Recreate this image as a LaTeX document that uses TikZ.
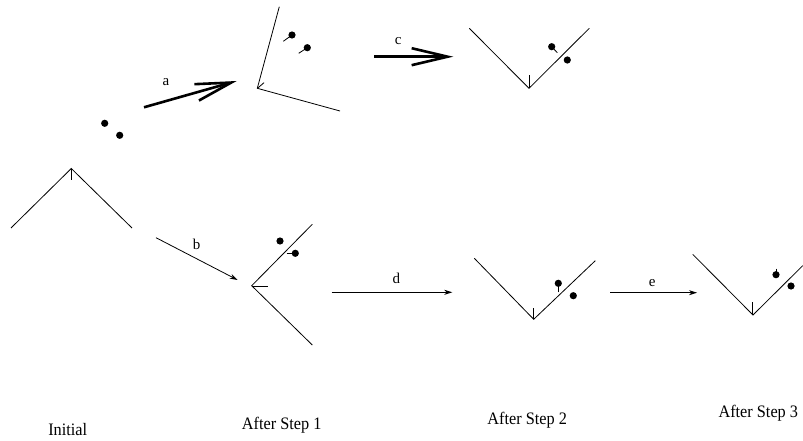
\documentclass[tikz,border=0pt]{standalone}
\usepackage{fontspec}
\setmainfont{Liberation Serif}
\usetikzlibrary{arrows.meta}
\begin{document}
\begin{tikzpicture}[x=1pt,y=-1pt,
  wall/.style={line width=0.8pt,line join=miter},
  tick/.style={line width=0.8pt},
  ball/.style={fill=black},
  thinarrow/.style={line width=0.8pt,-{Stealth[length=8pt,width=5pt,inset=2.5pt]}},
  thickarrow/.style={line width=2.6pt,-{Straight Barb[length=36pt,width=17pt]}},
  steplabel/.style={inner sep=0pt,font=\fontsize{15}{17}\selectfont},
  caption/.style={inner sep=0pt,anchor=base,font=\fontsize{17.5}{20}\selectfont\addfontfeatures{FakeStretch=0.93}}]
\useasboundingbox (0,0) rectangle (803,441);

% ---- initial configuration ----
\draw[wall] (11,228) -- (71.3,168.5) -- (132,228);
\draw[tick] (71.3,168.5) -- (71.3,180);
\fill[ball] (104.7,123.3) circle (3.6);
\fill[ball] (119.7,135.3) circle (3.6);

% ---- after step 1 (upper) ----
\draw[wall] (279.3,6.7) -- (257.3,88.3) -- (340,111);
\draw[tick] (257.8,88) -- (264,82.7);
\draw[tick] (283.3,41.3) -- (292,35);
\fill[ball] (292,35) circle (3.6);
\draw[tick] (298.7,53.3) -- (307.3,47.7);
\fill[ball] (307.3,47.7) circle (3.6);

% ---- after step 2 (upper) ----
\draw[wall] (469.3,28.3) -- (529,88.3) -- (589.3,28.3);
\draw[tick] (529,88.3) -- (529,75);
\draw[tick] (557.3,52.7) -- (551.7,46.7);
\fill[ball] (551.7,46.7) circle (3.6);
\fill[ball] (567.3,60) circle (3.6);

% ---- after step 1 (lower) ----
\draw[wall] (312.3,224.3) -- (251.7,285.7) -- (312.3,345);
\draw[tick] (251.7,286) -- (267.7,286);
\fill[ball] (280,241) circle (3.6);
\draw[tick] (286.7,253.3) -- (295.3,253.3);
\fill[ball] (295.3,253.3) circle (3.6);

% ---- after step 2 (lower) ----
\draw[wall] (474.3,258.3) -- (533.7,319.3) -- (595.3,260.7);
\draw[tick] (533.7,319.3) -- (533.7,308.3);
\draw[tick] (558.3,292.3) -- (558.3,283.3);
\fill[ball] (558.3,283.3) circle (3.6);
\fill[ball] (573.3,295.7) circle (3.6);

% ---- after step 3 ----
\draw[wall] (692.7,254.3) -- (753,315) -- (802.7,265.7);
\draw[tick] (752.5,315) -- (752.5,301.7);
\draw[tick] (776,268.7) -- (776,274.7);
\fill[ball] (776,274.7) circle (3.6);
\fill[ball] (791,286) circle (3.6);

% ---- transitions ----
\coordinate (a0) at (144,107.3);  \coordinate (a1) at (236.7,81);
\coordinate (c0) at (374,56.7);   \coordinate (c1) at (453.3,56.7);
\coordinate (b0) at (156,237.7);  \coordinate (b1) at (237.7,280);
\coordinate (d0) at (331.7,292.3); \coordinate (d1) at (452.3,292.3);
\coordinate (e0) at (610,292.7);  \coordinate (e1) at (697,292.7);

\draw[thickarrow] (a0) -- (a1);
\draw[thickarrow] (c0) -- (c1);
\draw[thinarrow] (b0) -- (b1);
\draw[thinarrow] (d0) -- (d1);
\draw[thinarrow] (e0) -- (e1);

\node[steplabel] (la) at (166,82) {a};
\node[steplabel] (lb) at (196.7,244.2) {b};
\node[steplabel] (lc) at (398.3,41) {c};
\node[steplabel] (ld) at (396.3,278.8) {d};
\node[steplabel] (le) at (652.3,283) {e};

% ---- captions ----
\node[caption] (cap0) at (67.7,435.3) {Initial};
\node[caption] (cap1) at (281.7,429.3) {After Step 1};
\node[caption] (cap2) at (527.2,424) {After Step 2};
\node[caption] (cap3) at (758.3,417.7) {After Step 3};
\end{tikzpicture}
\end{document}
